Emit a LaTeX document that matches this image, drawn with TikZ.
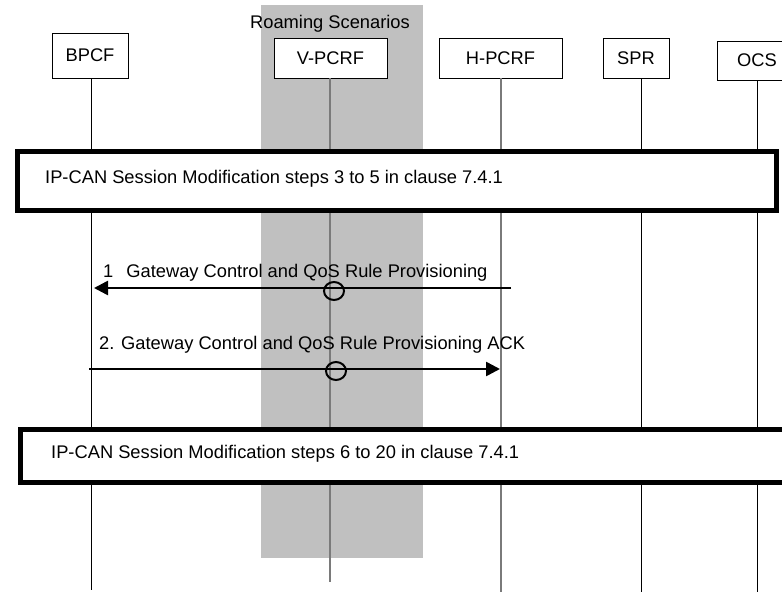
\documentclass[tikz,border=0pt]{standalone}
\usepackage{fontspec}
\setmainfont{Liberation Sans}
\usetikzlibrary{arrows.meta}
\definecolor{roamgray}{HTML}{C0C0C0}
\definecolor{lifegray}{HTML}{7A7A7A}
\begin{document}
\begin{tikzpicture}[x=1bp,y=-1bp,
  txt/.style={font=\fontsize{18.3bp}{22bp}\selectfont, inner sep=0pt},
  entity/.style={txt, draw=black, line width=0.8bp, fill=white},
  bigbox/.style={draw=black, line width=5bp, fill=white, inner sep=0pt},
  life/.style={line width=1bp, draw=black},
  lifeg/.style={line width=1.6bp, draw=lifegray},
  msg/.style={line width=2.6bp, -{Triangle[length=14bp,width=14bp]}},
  ring/.style={line width=2bp, draw=black}]
\useasboundingbox (0,0) rectangle (782,592);
\clip (0,0) rectangle (782,592);
% roaming area
\fill[roamgray] (261,5) rectangle (423,558);
\node[txt, anchor=base] (title) at (330,28.5) {Roaming Scenarios};
% entities
\node[entity, minimum width=76bp, minimum height=45bp] (bpcf) at (90,55.5) {BPCF};
\node[entity, minimum width=113bp, minimum height=40bp] (vpcrf) at (330.5,58) {V-PCRF};
\node[entity, minimum width=123bp, minimum height=40bp] (hpcrf) at (500.5,58) {H-PCRF};
\node[entity, minimum width=66bp, minimum height=40bp] (spr) at (636,58) {SPR};
\node[entity, minimum width=80bp, minimum height=39bp] (ocs) at (757,60.5) {OCS};
% lifeline ends
\coordinate (bpcfEnd) at (91,590);
\coordinate (vpcrfEnd) at (330,582);
\coordinate (hpcrfEnd) at (501,592);
\coordinate (sprEnd) at (641,592);
\coordinate (ocsEnd) at (757,592);
\draw[life] (bpcf.south -| bpcfEnd) -- (bpcfEnd);
\draw[lifeg] (vpcrf.south -| vpcrfEnd) -- (vpcrfEnd);
\draw[lifeg] (hpcrf.south -| hpcrfEnd) -- (hpcrfEnd);
\draw[life] (spr.south -| sprEnd) -- (sprEnd);
\draw[life] (ocs.south -| ocsEnd) -- (ocsEnd);
% procedure boxes
\node[bigbox, minimum width=759bp, minimum height=58bp, anchor=north west] (proc1) at (14.5,149.5) {};
\node[txt, anchor=base west] (proc1txt) at (45,183.5) {IP-CAN Session Modification steps 3 to 5 in clause 7.4.1};
\node[bigbox, minimum width=800bp, minimum height=53bp, anchor=south west] (proc2) at (17.5,484.5) {};
\node[txt, anchor=base west] (proc2txt) at (51,458.5) {IP-CAN Session Modification steps 6 to 20 in clause 7.4.1};
% messages
\coordinate (m1s) at (511,288);
\coordinate (m1e) at (94,288);
\coordinate (m2s) at (89,369);
\coordinate (m2e) at (500,369);
\draw[msg] (m1s) -- (m1e);
\node[txt, anchor=base west] (m1txt) at (103,277) {1\hspace{13bp}Gateway Control and QoS Rule Provisioning};
\draw[msg] (m2s) -- (m2e);
\node[txt, anchor=base west] (m2txt) at (99,349) {2. Gateway Control and QoS Rule Provisioning ACK};
% interception rings
\draw[ring] (334,291) ellipse [x radius=10bp, y radius=9bp];
\draw[ring] (336,371) ellipse [x radius=10bp, y radius=9bp];
\end{tikzpicture}
\end{document}
